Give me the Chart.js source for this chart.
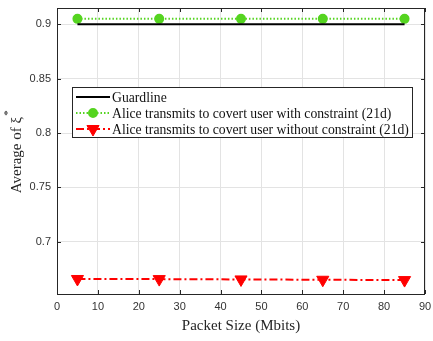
<!DOCTYPE html>
<html>
<head>
<meta charset="utf-8">
<script src="https://cdn.jsdelivr.net/npm/chart.js@4/dist/chart.umd.min.js"></script>
<style>
  html, body { margin: 0; padding: 0; background: #fff; }
  #wrap { width: 433px; height: 341px; }
</style>
</head>
<body>
<div id="wrap"><canvas id="myChart" width="433" height="341"></canvas></div>
<script>
// packet sizes (Mbits)
var packetSize = [5, 25, 45, 65, 85];
var guardline = [0.9, 0.9, 0.9, 0.9, 0.9];
var withConstraint = [0.905, 0.905, 0.905, 0.905, 0.905];
var withoutConstraint = [0.6658, 0.6657, 0.6654, 0.6651, 0.6648];
var xTicks = [0, 10, 20, 30, 40, 50, 60, 70, 80, 90];
var yTicks = [0.7, 0.75, 0.8, 0.85, 0.9];
var seriesNames = [
  'Guardline',
  'Alice transmits to covert user with constraint (21d)',
  'Alice transmits to covert user without constraint (21d)'
];

function pts(ys) {
  return packetSize.map(function (x, i) { return { x: x, y: ys[i] }; });
}

var serif = '"Liberation Serif", "Times New Roman", serif';
var sans = '"Liberation Sans", Arial, sans-serif';

// inward tick marks, box outline and y title with superscript
var framePlugin = {
  id: 'frame',
  afterDraw: function (chart) {
    var c = chart.ctx, a = chart.chartArea;
    var xs = chart.scales.x, ys = chart.scales.y;
    c.save();
    c.strokeStyle = '#262626';
    c.lineWidth = 1;
    c.beginPath();
    xTicks.forEach(function (v) {
      var px = Math.round(xs.getPixelForValue(v)) + 0.5;
      c.moveTo(px, a.bottom); c.lineTo(px, a.bottom - 4);
      c.moveTo(px, a.top); c.lineTo(px, a.top + 4);
    });
    yTicks.forEach(function (v) {
      var py = Math.round(ys.getPixelForValue(v)) + 0.5;
      c.moveTo(a.left, py); c.lineTo(a.left + 4, py);
      c.moveTo(a.right, py); c.lineTo(a.right - 4, py);
    });
    c.stroke();
    c.strokeRect(a.left + 0.5, a.top + 0.5, a.right - a.left - 1, a.bottom - a.top);

    // y axis title
    c.translate(17, (a.top + a.bottom) / 2);
    c.rotate(-Math.PI / 2);
    c.fillStyle = '#262626';
    c.font = '15px ' + serif;
    c.textBaseline = 'middle';
    var main = 'Average of \u03BE';
    var w = c.measureText(main).width;
    var sw = 8;
    c.textAlign = 'left';
    c.fillText(main, -(w + sw) / 2, 0);
    c.font = '11px ' + serif;
    c.fillText('*', -(w + sw) / 2 + w + 1, -9);
    c.restore();
  }
};

// legend box drawn inside the plot
var legendPlugin = {
  id: 'boxLegend',
  afterDraw: function (chart) {
    var c = chart.ctx;
    var x0 = 72, y0 = 87, w = 340, h = 50;
    c.save();
    c.fillStyle = '#fff';
    c.fillRect(x0, y0, w, h);
    c.strokeStyle = '#262626';
    c.lineWidth = 1;
    c.strokeRect(x0 + 0.5, y0 + 0.5, w, h);
    c.font = '13.7px ' + serif;
    c.fillStyle = '#111';
    c.textBaseline = 'middle';
    chart.data.datasets.forEach(function (ds, i) {
      var cy = y0 + 10 + i * 16;
      c.save();
      c.strokeStyle = ds.borderColor;
      c.lineWidth = ds.borderWidth;
      c.setLineDash(ds.borderDash || []);
      c.beginPath();
      c.moveTo(x0 + 4, cy); c.lineTo(x0 + 38, cy);
      c.stroke();
      c.restore();
      if (ds.pointRadius > 0) {
        c.save();
        c.fillStyle = ds.pointBackgroundColor;
        c.strokeStyle = ds.pointBorderColor;
        c.lineWidth = ds.pointBorderWidth;
        Chart.helpers.drawPoint(c, {
          pointStyle: ds.pointStyle,
          rotation: ds.pointRotation || 0,
          radius: ds.pointRadius,
          borderWidth: ds.pointBorderWidth
        }, x0 + 21, cy);
        c.restore();
      }
      c.fillText(seriesNames[i], x0 + 40, cy + 1);
    });
    c.restore();
  }
};

var ctx = document.getElementById('myChart').getContext('2d');
var myChart = new Chart(ctx, {
  type: 'line',
  data: {
    datasets: [{
      label: seriesNames[0],
      data: pts(guardline),
      borderColor: '#000000',
      borderWidth: 2,
      pointRadius: 0
    }, {
      label: seriesNames[1],
      data: pts(withConstraint),
      borderColor: '#55d420',
      borderWidth: 2,
      borderDash: [1.5, 2],
      pointStyle: 'circle',
      pointRadius: 4,
      pointBorderWidth: 2,
      pointBackgroundColor: '#55d420',
      pointBorderColor: '#55d420'
    }, {
      label: seriesNames[2],
      data: pts(withoutConstraint),
      borderColor: '#ff0000',
      borderWidth: 2,
      borderDash: [8, 3, 2, 3],
      pointStyle: 'triangle',
      pointRotation: 180,
      pointRadius: 7,
      pointBorderWidth: 1,
      pointBackgroundColor: '#ff0000',
      pointBorderColor: '#ff0000'
    }]
  },
  options: {
    responsive: false,
    animation: false,
    layout: { padding: { top: 2, right: 4, left: 0, bottom: 0 } },
    plugins: {
      legend: { display: false },
      tooltip: { enabled: false }
    },
    scales: {
      x: {
        type: 'linear',
        min: 0,
        max: 90,
        afterBuildTicks: function (s) { s.ticks = xTicks.map(function (v) { return { value: v }; }); },
        afterFit: function (s) { s.height = 47; s.paddingLeft = 0; s.paddingRight = 0; },
        grid: { color: '#e3e3e3', drawTicks: false },
        border: { display: false },
        ticks: { color: '#333', font: { family: sans, size: 11 }, padding: 6, maxRotation: 0 },
        title: {
          display: true,
          text: 'Packet Size (Mbits)',
          color: '#262626',
          font: { family: serif, size: 15 },
          padding: { top: 0, bottom: 6 }
        }
      },
      y: {
        min: 0.652,
        max: 0.915,
        afterBuildTicks: function (s) { s.ticks = yTicks.map(function (v) { return { value: v }; }); },
        afterFit: function (s) { s.width = 57; s.paddingTop = 0; s.paddingBottom = 0; },
        grid: { color: '#e3e3e3', drawTicks: false },
        border: { display: false },
        ticks: {
          color: '#333',
          font: { family: sans, size: 11 },
          padding: 6,
          callback: function (v) { return String(Math.round(v * 100) / 100); }
        }
      }
    }
  },
  plugins: [framePlugin, legendPlugin]
});
</script>
</body>
</html>
